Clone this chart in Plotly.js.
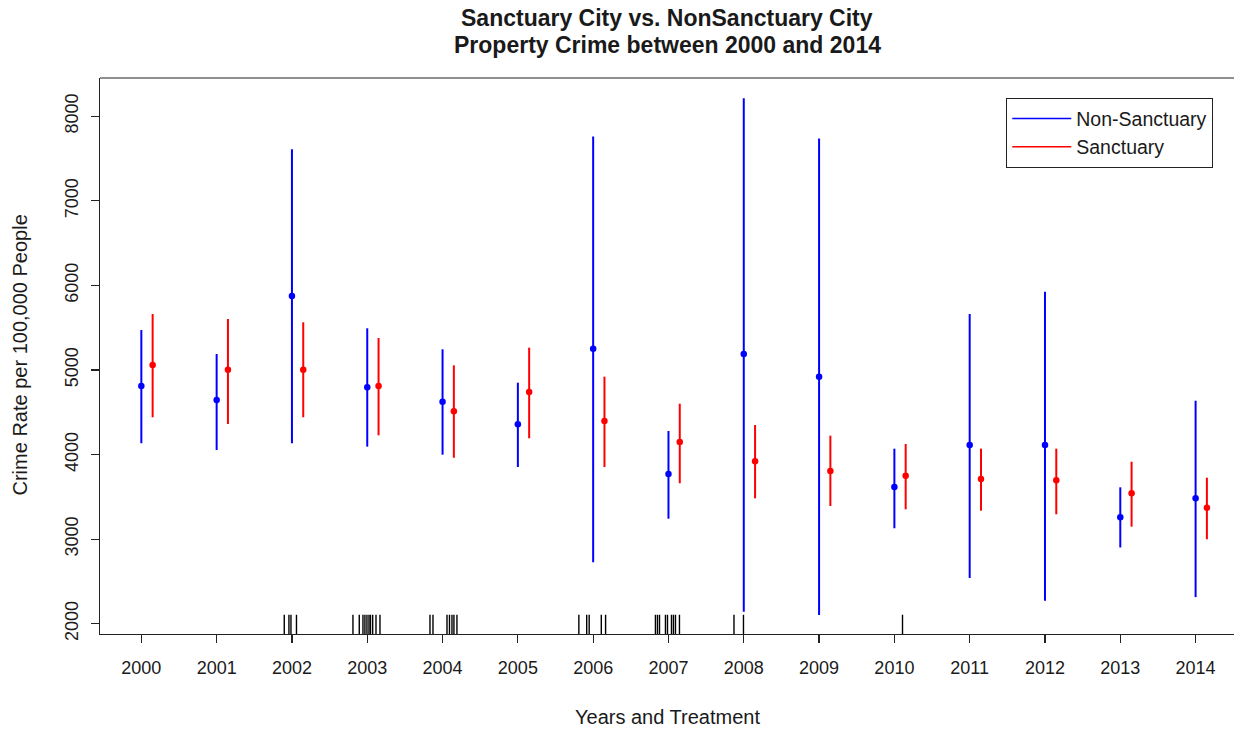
<!DOCTYPE html>
<html>
<head>
<meta charset="utf-8">
<script src="https://cdn.plot.ly/plotly-3.0.1.min.js"></script>
<style>
  html, body { margin: 0; padding: 0; background: #ffffff; }
  #chart { width: 1234px; height: 731px; }
</style>
</head>
<body>
<div id="chart"></div>
<script>
// Property crime rate per 100,000 people, yearly mean with interval bounds
const years = [2000, 2001, 2002, 2003, 2004, 2005, 2006, 2007, 2008, 2009, 2010, 2011, 2012, 2013, 2014];

const nonSanctuaryMean  = [4811, 4645, 5875, 4795, 4625, 4358, 5252, 3771, 5189, 4921, 3617, 4113, 4113, 3259, 3483];
const nonSanctuaryLower = [4134, 4054, 4134, 4094, 3999, 3853, 2727, 3242, 2143, 2105, 3129, 2540, 2273, 2902, 2315];
const nonSanctuaryUpper = [5473, 5189, 7609, 5493, 5245, 4850, 7760, 4279, 8213, 7736, 4070, 5662, 5926, 3613, 4637];

const sanctuaryMean  = [5059, 5004, 5004, 4811, 4512, 4740, 4397, 4149, 3921, 3806, 3751, 3712, 3696, 3543, 3372];
const sanctuaryLower = [4441, 4362, 4441, 4228, 3963, 4193, 3853, 3661, 3483, 3392, 3353, 3337, 3294, 3148, 2999];
const sanctuaryUpper = [5662, 5603, 5564, 5378, 5055, 5264, 4921, 4602, 4350, 4224, 4125, 4070, 4070, 3916, 3727];

// Jittered years in which cities adopted sanctuary policies (rug along the x axis)
const adoptionYears = [
  2001.898, 2001.960, 2001.987, 2002.060,
  2002.810, 2002.894, 2002.943, 2002.969, 2002.996, 2003.023, 2003.043, 2003.072, 2003.116, 2003.169,
  2003.833, 2003.873, 2004.059, 2004.092, 2004.125, 2004.151, 2004.191,
  2005.810, 2005.914, 2005.947, 2006.108, 2006.165,
  2006.827, 2006.854, 2006.881, 2006.960, 2006.987, 2007.040, 2007.066, 2007.093, 2007.146,
  2007.870, 2007.996,
  2010.108
];

const tickYears = ['2000', '2001', '2002', '2003', '2004', '2005', '2006', '2007', '2008', '2009', '2010', '2011', '2012', '2013', '2014'];
const yTicks = [2000, 3000, 4000, 5000, 6000, 7000, 8000];

const titleLines = ['Sanctuary City vs. NonSanctuary City', 'Property Crime between 2000 and 2014'];
const seriesNames = ['Non-Sanctuary', 'Sanctuary'];
const seriesColors = ['#0000ff', '#ff0000'];
const sanctuaryShift = 0.15;   // red intervals sit just right of the blue ones

function intervalTrace(xs, mean, lower, upper, color) {
  return {
    type: 'scatter',
    mode: 'markers',
    x: xs,
    y: mean,
    showlegend: false,
    hoverinfo: 'x+y',
    marker: { color: color, size: 6.5, symbol: 'circle' },
    error_y: {
      type: 'data',
      symmetric: false,
      array: upper.map((u, i) => u - mean[i]),
      arrayminus: mean.map((m, i) => m - lower[i]),
      color: color,
      thickness: 2,
      width: 0
    }
  };
}

const traces = [
  intervalTrace(years, nonSanctuaryMean, nonSanctuaryLower, nonSanctuaryUpper, seriesColors[0]),
  intervalTrace(years.map(y => y + sanctuaryShift), sanctuaryMean, sanctuaryLower, sanctuaryUpper, seriesColors[1]),
  {
    type: 'scatter',
    mode: 'markers',
    x: adoptionYears,
    y: adoptionYears.map(() => 1974),
    showlegend: false,
    hoverinfo: 'x',
    marker: { symbol: 'line-ns-open', size: 16, color: '#000000', line: { color: '#000000', width: 1.4 } }
  },
  // legend keys drawn as plain line segments
  { type: 'scatter', mode: 'lines', x: [null], y: [null], name: seriesNames[0], line: { color: seriesColors[0], width: 1.5 } },
  { type: 'scatter', mode: 'lines', x: [null], y: [null], name: seriesNames[1], line: { color: seriesColors[1], width: 1.5 } }
];

const textFont = { family: 'Liberation Sans, Arial, sans-serif', color: '#1a1a1a' };
const f = (size, extra) => Object.assign({ size: size }, textFont, extra || {});

const layout = {
  width: 1234,
  height: 731,
  paper_bgcolor: '#ffffff',
  plot_bgcolor: '#ffffff',
  margin: { l: 100, r: 0, t: 78, b: 97 },
  font: f(18),
  xaxis: {
    range: [1999.451, 2014.51],
    tickmode: 'array',
    tickvals: years,
    ticktext: tickYears,
    ticks: 'outside',
    ticklen: 8,
    tickwidth: 1.2,
    tickcolor: '#222222',
    ticklabelstandoff: 9,
    showline: true,
    linecolor: '#222222',
    linewidth: 1.2,
    showgrid: false,
    zeroline: false,
    tickfont: f(18)
  },
  yaxis: {
    range: [1879, 8452],
    tickmode: 'array',
    tickvals: yTicks,
    ticks: 'outside',
    ticklen: 8,
    tickwidth: 1.2,
    tickcolor: '#222222',
    tickangle: -90,
    ticklabelstandoff: 6,
    showline: true,
    linecolor: '#222222',
    linewidth: 1.2,
    showgrid: false,
    zeroline: false,
    tickfont: f(18)
  },
  shapes: [
    { type: 'line', xref: 'paper', yref: 'paper', x0: 0, x1: 1, y0: 1, y1: 1, line: { color: '#222222', width: 1.2 } }
  ],
  annotations: [
    {
      text: '<b>' + titleLines[0] + '</b>',
      xref: 'paper', yref: 'paper',
      x: 0.5, y: 1.1079,
      xanchor: 'center', yanchor: 'middle',
      showarrow: false,
      font: f(23)
    },
    {
      text: '<b>' + titleLines[1] + '</b>',
      xref: 'paper', yref: 'paper',
      x: 0.5, y: 1.0594,
      xanchor: 'center', yanchor: 'middle',
      showarrow: false,
      font: f(23)
    },
    {
      text: 'Years and Treatment',
      xref: 'paper', yref: 'paper',
      x: 0.5, y: -0.1493,
      xanchor: 'center', yanchor: 'middle',
      showarrow: false,
      font: f(20)
    },
    {
      text: 'Crime Rate per 100,000 People',
      xref: 'paper', yref: 'paper',
      x: -0.0705, y: 0.501,
      xanchor: 'center', yanchor: 'middle',
      textangle: -90,
      showarrow: false,
      font: f(20)
    }
  ],
  legend: {
    x: 0.799,
    y: 0.964,
    xanchor: 'left',
    yanchor: 'top',
    bgcolor: '#ffffff',
    bordercolor: '#222222',
    borderwidth: 1.2,
    itemwidth: 59,
    font: f(19.5),
    tracegroupgap: 0
  },
  showlegend: true
};

Plotly.newPlot('chart', traces, layout, { displayModeBar: false, staticPlot: true });
</script>
</body>
</html>
